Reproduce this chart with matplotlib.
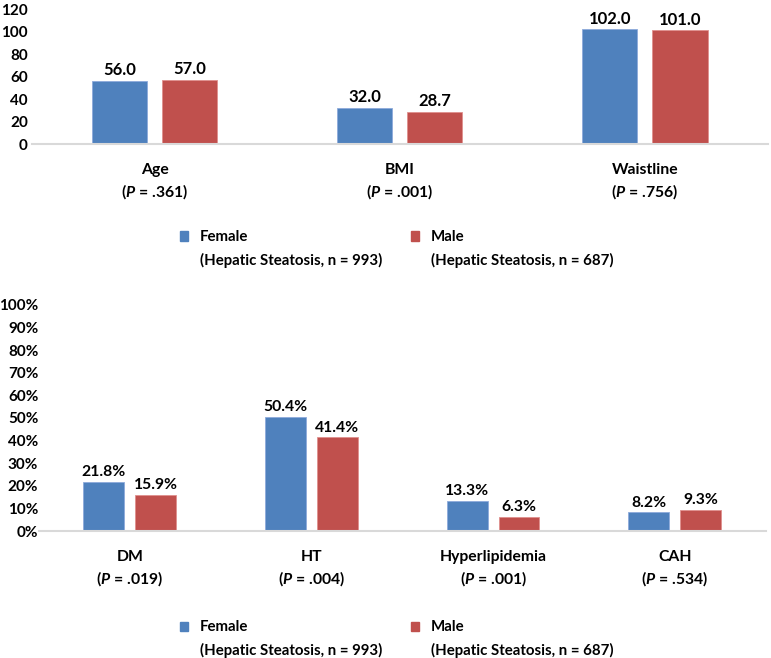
import matplotlib
matplotlib.use('Agg')
import matplotlib.pyplot as plt
from matplotlib.patches import Patch
import numpy as np

# data
top_cats = ['Age', 'BMI', 'Waistline']
top_p = ['.361', '.001', '.756']
top_female = [56.0, 32.0, 102.0]
top_male = [57.0, 28.7, 101.0]
top_ticks = [0, 20, 40, 60, 80, 100, 120]

bot_cats = ['DM', 'HT', 'Hyperlipidemia', 'CAH']
bot_p = ['.019', '.004', '.001', '.534']
bot_female = [21.8, 50.4, 13.3, 8.2]
bot_male = [15.9, 41.4, 6.3, 9.3]
bot_ticks = [0, 10, 20, 30, 40, 50, 60, 70, 80, 90, 100]

female_label = 'Female'
male_label = 'Male'
female_note = '(Hepatic Steatosis, n = 993)'
male_note = '(Hepatic Steatosis, n = 687)'

blue = '#4F81BD'
red = '#C0504D'

plt.rcParams['font.family'] = ['Lato', 'DejaVu Sans']
plt.rcParams['font.weight'] = 'bold'
plt.rcParams['mathtext.fontset'] = 'custom'
plt.rcParams['mathtext.it'] = 'Lato:italic:bold'
plt.rcParams['mathtext.rm'] = 'Lato:bold'

fig = plt.figure(figsize=(7.71, 6.58), dpi=100)
ax1 = fig.add_axes([0.0415, 0.781, 0.954, 0.2052])
ax2 = fig.add_axes([0.0506, 0.193, 0.9423, 0.3435])

w = 0.225
off = 0.143


def style(ax, ncat, ticks, ticklabels, cats, pvals, ypad):
    ax.set_xlim(-0.5, ncat - 0.5)
    ax.set_ylim(ticks[0], ticks[-1])
    ax.set_yticks(ticks, ticklabels)
    ax.set_xticks(np.arange(ncat), [c + '\n($P$ = ' + p + ')' for c, p in zip(cats, pvals)])
    for s in ['top', 'right', 'left']:
        ax.spines[s].set_visible(False)
    ax.spines['bottom'].set_color('#D9D9D9')
    ax.spines['bottom'].set_linewidth(1.5)
    ax.tick_params(axis='y', length=0, pad=ypad, labelsize=11)
    ax.tick_params(axis='x', length=0, pad=13.5, labelsize=11.3)
    for t in ax.get_xticklabels():
        t.set_linespacing(1.4)
    ax.set_facecolor('none')


# top chart
x1 = np.arange(len(top_cats))
b1 = ax1.bar(x1 - off, top_female, w, color=blue, edgecolor='#8EAADB', linewidth=0.6)
b2 = ax1.bar(x1 + off, top_male, w, color=red, edgecolor='#E0908E', linewidth=0.6)
ax1.bar_label(b1, fmt='%.1f', padding=2, fontsize=12)
ax1.bar_label(b2, fmt='%.1f', padding=2, fontsize=12)
style(ax1, len(top_cats), top_ticks, [str(t) for t in top_ticks], top_cats, top_p, 3)

# bottom chart
x2 = np.arange(len(bot_cats))
b3 = ax2.bar(x2 - off, bot_female, w, color=blue, edgecolor='#8EAADB', linewidth=0.6)
b4 = ax2.bar(x2 + off, bot_male, w, color=red, edgecolor='#E0908E', linewidth=0.6)
ax2.bar_label(b3, fmt='%.1f%%', padding=2, fontsize=11.3)
ax2.bar_label(b4, fmt='%.1f%%', padding=2, fontsize=11.3)
style(ax2, len(bot_cats), bot_ticks, [f'{t}%' for t in bot_ticks], bot_cats, bot_p, 0.5)

# legends
handles = [Patch(color=blue), Patch(color='none'), Patch(color=red), Patch(color='none')]
labels = [female_label, female_note, male_label, male_note]
for ytop in [0.650, 0.057]:
    fig.legend(handles, labels, ncol=2, loc='upper left', bbox_to_anchor=(0.2335, ytop),
               frameon=False, fontsize=10.8, handlelength=0.55, handleheight=0.55,
               handletextpad=0.75, columnspacing=1.95, labelspacing=0.55,
               borderpad=0, borderaxespad=0)

fig.savefig('out.png', dpi=100)
